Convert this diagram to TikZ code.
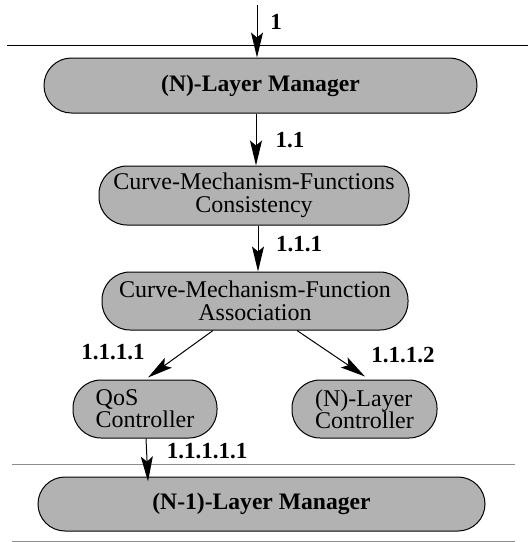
\documentclass[tikz,border=0pt]{standalone}
\usepackage{fontspec}
\setmainfont{Liberation Serif}
\usetikzlibrary{positioning, calc, arrows.meta}

\begin{document}
\begin{tikzpicture}[x=0.5pt, y=-0.5pt, line width=0.5pt, >={Stealth[length=12.5pt, width=6pt, inset=2.5pt]},
    pill/.style={draw, fill=black!30, rounded corners=14pt, inner sep=0pt, align=center,
        font=\fontsize{12}{11.5}\selectfont},
    lbl/.style={font=\fontsize{11.5}{12}\selectfont\bfseries, inner sep=0pt}]
    \useasboundingbox (0, 0) rectangle (528, 542);
    % layer boundaries
    \draw (7, 45) -- (528, 45);
    \draw[black!45] (12, 464) -- (515, 464);
    \draw[black!45] (12, 541) -- (515, 541);
    % boxes
    \node[pill, minimum width=216.5pt, minimum height=27.5pt, rounded corners=13.7pt,
        font=\fontsize{11.8}{11}\selectfont\bfseries] (nlm) at (260.5, 85.5) {(N)-Layer Manager};
    \node[pill, minimum width=155pt, minimum height=29.5pt] (cmfc) at (254, 195.5)
        {Curve-Mechanism-Functions\\Consistency};
    \node[pill, minimum width=153pt, minimum height=29pt] (cmfa) at (255, 301)
        {Curve-Mechanism-Function\\Association};
    \node[pill, minimum width=72pt, minimum height=29pt, align=left,
        font=\fontsize{12}{11}\selectfont] (qos) at (145, 409) {QoS\\Controller};
    \node[pill, minimum width=72.5pt, minimum height=29pt, align=left,
        font=\fontsize{12}{11}\selectfont] (nlc) at (364.5, 409) {(N)-Layer\\Controller};
    \node[pill, minimum width=223.5pt, minimum height=27pt, rounded corners=13.5pt,
        font=\fontsize{11.8}{11}\selectfont\bfseries] (n1lm) at (261.5, 504) {(N-1)-Layer Manager};
    % arrows
    \coordinate (in) at (257, 5);
    \draw[->] (in) -- (in |- nlm.north);
    \draw[->] ([xshift=-2.25pt]nlm.south) -- ([xshift=-2.25pt]nlm.south |- cmfc.north);
    \draw[->] ([xshift=2pt]cmfc.south) -- ([xshift=2pt]cmfc.south |- cmfa.north);
    \draw[->] ([xshift=-21pt]cmfa.south) -- ([xshift=1.5pt, yshift=1pt]qos.north);
    \draw[->] ([xshift=21pt]cmfa.south) -- ([xshift=0.25pt, yshift=1.5pt]nlc.north);
    \draw[->] ([xshift=0.5pt]qos.south) -- ([xshift=1.5pt, yshift=-2.5pt]n1lm.north -| qos);
    % labels
    \node[lbl] (l1) at (276, 22) {1};
    \node[lbl] (l11) at (290, 140) {1.1};
    \node[lbl] (l111) at (299, 244) {1.1.1};
    \node[lbl] (l1111) at (113, 352) {1.1.1.1};
    \node[lbl] (l1112) at (403, 355) {1.1.1.2};
    \node[lbl] (l11111) at (207, 451) {1.1.1.1.1};
\end{tikzpicture}
\end{document}
